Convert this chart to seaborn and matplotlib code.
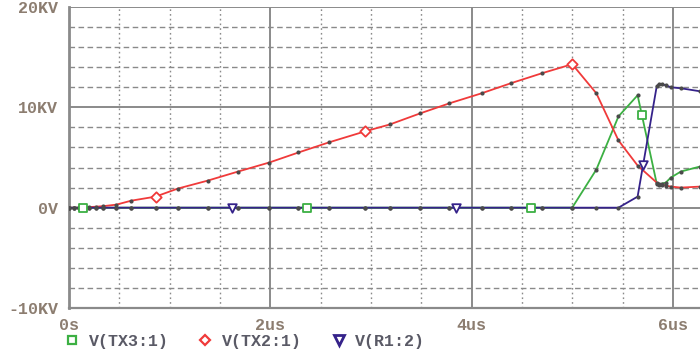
import numpy as np
import pandas as pd
import matplotlib
matplotlib.use("Agg")
import matplotlib.pyplot as plt
from matplotlib.lines import Line2D
from matplotlib.ticker import FixedLocator
import seaborn as sns

# ---- data (time in us, voltage in KV) ----
time_us = [0.0, 0.05, 0.10, 0.14, 0.20, 0.27, 0.34, 0.47, 0.62, 0.86, 1.08, 1.38, 1.68,
           1.99, 2.28, 2.58, 2.94, 3.19, 3.49, 3.78, 4.10, 4.39, 4.70, 5.00, 5.24,
           5.46, 5.65, 5.84, 5.86, 5.89, 5.93, 5.98, 6.08, 6.27]
v_tx3 = [0, 0, 0, 0, 0, 0, 0, 0, 0, 0, 0, 0, 0,
         0, 0, 0, 0, 0, 0, 0, 0, 0, 0, 0, 3.8,
         9.1, 11.2, 2.4, 2.3, 2.4, 2.5, 3.0, 3.6, 4.1]
v_tx2 = [0, 0, 0, 0, 0.05, 0.1, 0.15, 0.3, 0.7, 1.1, 1.9, 2.7, 3.6,
         4.5, 5.5, 6.5, 7.6, 8.3, 9.4, 10.4, 11.4, 12.4, 13.4, 14.3, 11.4,
         6.7, 4.2, 2.5, 2.4, 2.3, 2.2, 2.1, 2.0, 2.1]
v_r1 = [0, 0, 0, 0, 0, 0, 0, 0, 0, 0, 0, 0, 0,
        0, 0, 0, 0, 0, 0, 0, 0, 0, 0, 0, 0,
        0, 1.1, 12.1, 12.3, 12.3, 12.2, 12.0, 11.9, 11.6]

# symbol marker positions along each trace
mk_tx3_t = [0.14, 2.36, 4.59, 5.69]
mk_tx3_v = [0, 0, 0, 9.2]
mk_tx2_t = [0.86, 2.94, 5.00]
mk_tx2_v = [1.1, 7.6, 14.3]
mk_r1_t = [1.62, 3.85, 5.70]
mk_r1_v = [0, 0, 4.3]

series_names = ["V(TX3:1)", "V(TX2:1)", "V(R1:2)"]
x_ticks = [0, 2, 4, 6]
x_labels = ["0s", "2us", "4us", "6us"]
y_ticks = [-10, 0, 10, 20]
y_labels = ["-10KV", "0V", "10KV", "20KV"]

colors = {"V(TX3:1)": "#3cb043", "V(TX2:1)": "#f03a3a", "V(R1:2)": "#35228a"}

df = pd.DataFrame({
    "t": time_us * 3,
    "v": v_tx3 + v_tx2 + v_r1,
    "series": [series_names[0]] * len(time_us) + [series_names[1]] * len(time_us)
              + [series_names[2]] * len(time_us),
})

sns.set_style("white")
plt.rcParams["font.family"] = ["Liberation Mono", "DejaVu Sans Mono"]

fig = plt.figure(figsize=(7, 3.5), dpi=100)
ax = fig.add_axes([0.0986, 0.12, 0.9014, 0.86])

grid_c = "#8a8a8a"
# minor grid
for xv in np.arange(0.5, 6.3, 0.5):
    if abs(xv % 2) > 1e-6:
        ax.axvline(xv, color=grid_c, lw=1.0, ls=(0, (1.2, 2.2)), zorder=0.5)
for yv in np.arange(-8, 20, 2):
    if abs(yv % 10) > 1e-6:
        ax.axhline(yv, color=grid_c, lw=1.0, ls=(0, (4, 2.5)), zorder=0.5)
for xv in [2, 4, 6]:
    ax.axvline(xv, color=grid_c, lw=1.4, zorder=0.6)
for yv in [0, 10, 20]:
    ax.axhline(yv, color=grid_c, lw=1.4, zorder=0.6)

sns.lineplot(data=df, x="t", y="v", hue="series", hue_order=series_names,
             palette=colors, sort=False, estimator=None, legend=False, ax=ax,
             linewidth=1.3, zorder=3)
sns.scatterplot(data=df, x="t", y="v", color="#4a4a4a", s=9, linewidth=0,
                legend=False, ax=ax, zorder=4)

mk_style = dict(facecolor="white", s=38, linewidth=1.3, zorder=5, legend=False)
sns.scatterplot(x=mk_tx3_t, y=mk_tx3_v, marker="s", edgecolor=colors["V(TX3:1)"], ax=ax, **mk_style)
sns.scatterplot(x=mk_tx2_t, y=mk_tx2_v, marker="D", edgecolor=colors["V(TX2:1)"], ax=ax,
                **{**mk_style, "s": 28})
sns.scatterplot(x=mk_r1_t, y=mk_r1_v, marker="v", edgecolor=colors["V(R1:2)"], ax=ax, **mk_style)

ax.set_xlim(0, 6.27)
ax.set_ylim(-10, 20)
ax.set_xlabel("")
ax.set_ylabel("")
ax.xaxis.set_major_locator(FixedLocator(x_ticks))
ax.set_xticklabels(x_labels)
ax.yaxis.set_major_locator(FixedLocator(y_ticks))
ax.set_yticklabels(y_labels)

tick_c = "#8c7d70"
ax.tick_params(axis="both", which="major", direction="out", length=6, width=1.4,
               color=grid_c, labelcolor=tick_c, labelsize=12)
ax.tick_params(axis="x", pad=1)
ax.tick_params(axis="y", pad=2)
for lab in ax.get_xticklabels() + ax.get_yticklabels():
    lab.set_fontweight("bold")

for s in ["top", "right"]:
    ax.spines[s].set_visible(False)
ax.spines["left"].set_color(grid_c)
ax.spines["left"].set_linewidth(2.0)
ax.spines["bottom"].set_color(grid_c)
ax.spines["bottom"].set_linewidth(1.6)

handles = [
    Line2D([], [], ls="none", marker="s", markersize=6, markerfacecolor="white",
           markeredgecolor=colors["V(TX3:1)"], markeredgewidth=1.6),
    Line2D([], [], ls="none", marker="D", markersize=5, markerfacecolor="white",
           markeredgecolor=colors["V(TX2:1)"], markeredgewidth=1.6),
    Line2D([], [], ls="none", marker="v", markersize=7, markerfacecolor="white",
           markeredgecolor=colors["V(R1:2)"], markeredgewidth=2.0),
]
leg = fig.legend(handles, series_names, loc="center left", bbox_to_anchor=(0.091, 0.025),
                 ncol=3, frameon=False, handlelength=1.0, handletextpad=0.5,
                 columnspacing=1.7, borderpad=0.0, borderaxespad=0.0,
                 prop={"size": 12, "weight": "bold"})
for txt in leg.get_texts():
    txt.set_color("#5a5a66")

fig.savefig("out.png", dpi=100)
